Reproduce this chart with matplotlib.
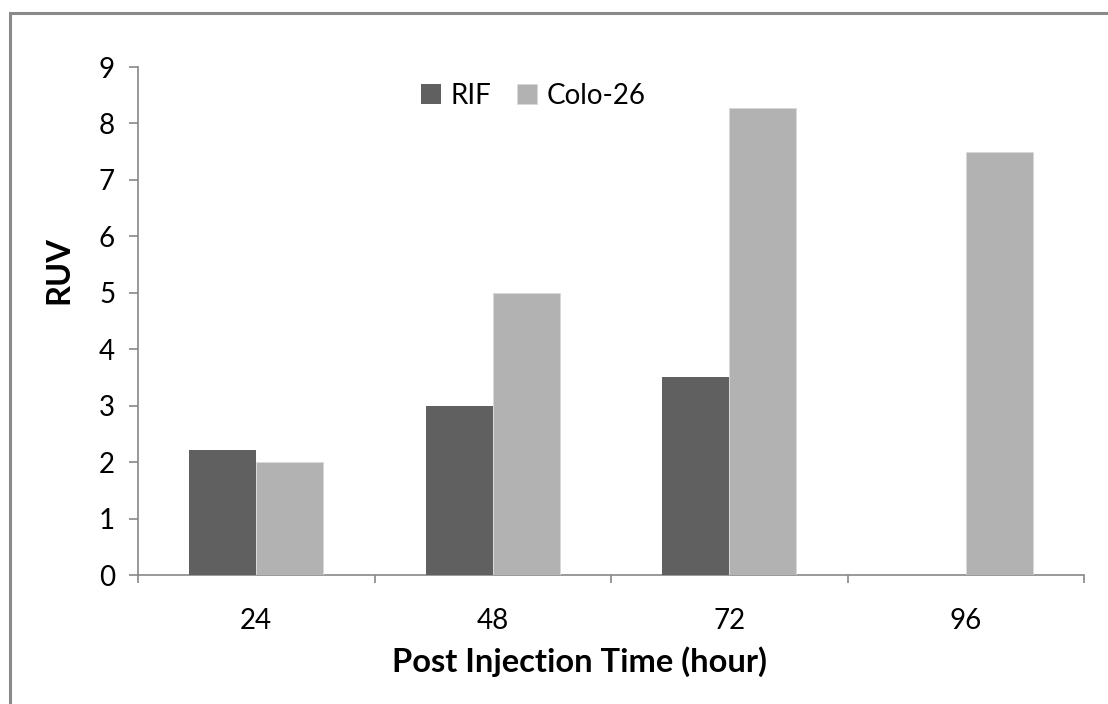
import numpy as np
import matplotlib.pyplot as plt
from matplotlib.patches import Rectangle

plt.rcParams['font.family'] = ['Lato', 'DejaVu Sans']

hours = ['24', '48', '72', '96']
rif = [2.22, 3.0, 3.5, np.nan]
colo26 = [2.0, 5.0, 8.27, 7.5]
series_names = ['RIF', 'Colo-26']
yticks = list(range(0, 10))

W, H = 1108, 704
fig = plt.figure(figsize=(W / 100, H / 100), dpi=100)
fig.patch.set_facecolor('white')

ax = fig.add_axes([138 / W, 1 - 575 / H, (1084 - 138) / W, (575 - 67) / H])

x = np.arange(len(hours))
bw = 0.283
ax.bar(x - bw / 2, rif, width=bw, color='#606060', label=series_names[0], zorder=3)
ax.bar(x + bw / 2, colo26, width=bw, color='#b2b2b2', edgecolor='#d8d8d8',
       linewidth=0.6, label=series_names[1], zorder=3)

ax.set_xlim(-0.5, len(hours) - 0.5)
ax.set_ylim(0, 9)
ax.set_yticks(yticks)
ax.set_yticklabels([str(v) for v in yticks])

ax.set_xticks(x)
ax.set_xticklabels(hours)
ax.set_xticks(np.arange(-0.5, len(hours)), minor=True)
ax.tick_params(axis='x', which='major', length=0, pad=24, labelsize=20)
ax.tick_params(axis='x', which='minor', length=6, width=1.2, color='#888888')
ax.tick_params(axis='y', length=6.5, width=1.2, color='#888888', pad=10, labelsize=20)

for s in ['top', 'right']:
    ax.spines[s].set_visible(False)
for s in ['left', 'bottom']:
    ax.spines[s].set_color('#888888')
    ax.spines[s].set_linewidth(1.2)

ax.set_xlabel('Post Injection Time (hour)', fontsize=23.5, fontweight='bold')
ax.xaxis.set_label_coords((580 - 138) / (1084 - 138), -0.141)
ax.set_ylabel('RUV', fontsize=23.5, fontweight='bold')
ax.yaxis.set_label_coords(-0.068, 0.6)

leg = ax.legend(ncol=2, loc='center left',
                bbox_to_anchor=((410 - 138) / (1084 - 138), (575 - 96) / (575 - 67)),
                frameon=False, fontsize=20, handlelength=0.72, handleheight=0.72,
                handletextpad=0.35, columnspacing=0.9, borderaxespad=0)

# outer frame around the chart area
fig.patches.append(Rectangle((9.5 / W, -0.1), 1.2, (H - 13) / H + 0.1,
                             transform=fig.transFigure, fill=False,
                             edgecolor='#8a8a8a', linewidth=2.2))

fig.savefig('out.png', dpi=100)
